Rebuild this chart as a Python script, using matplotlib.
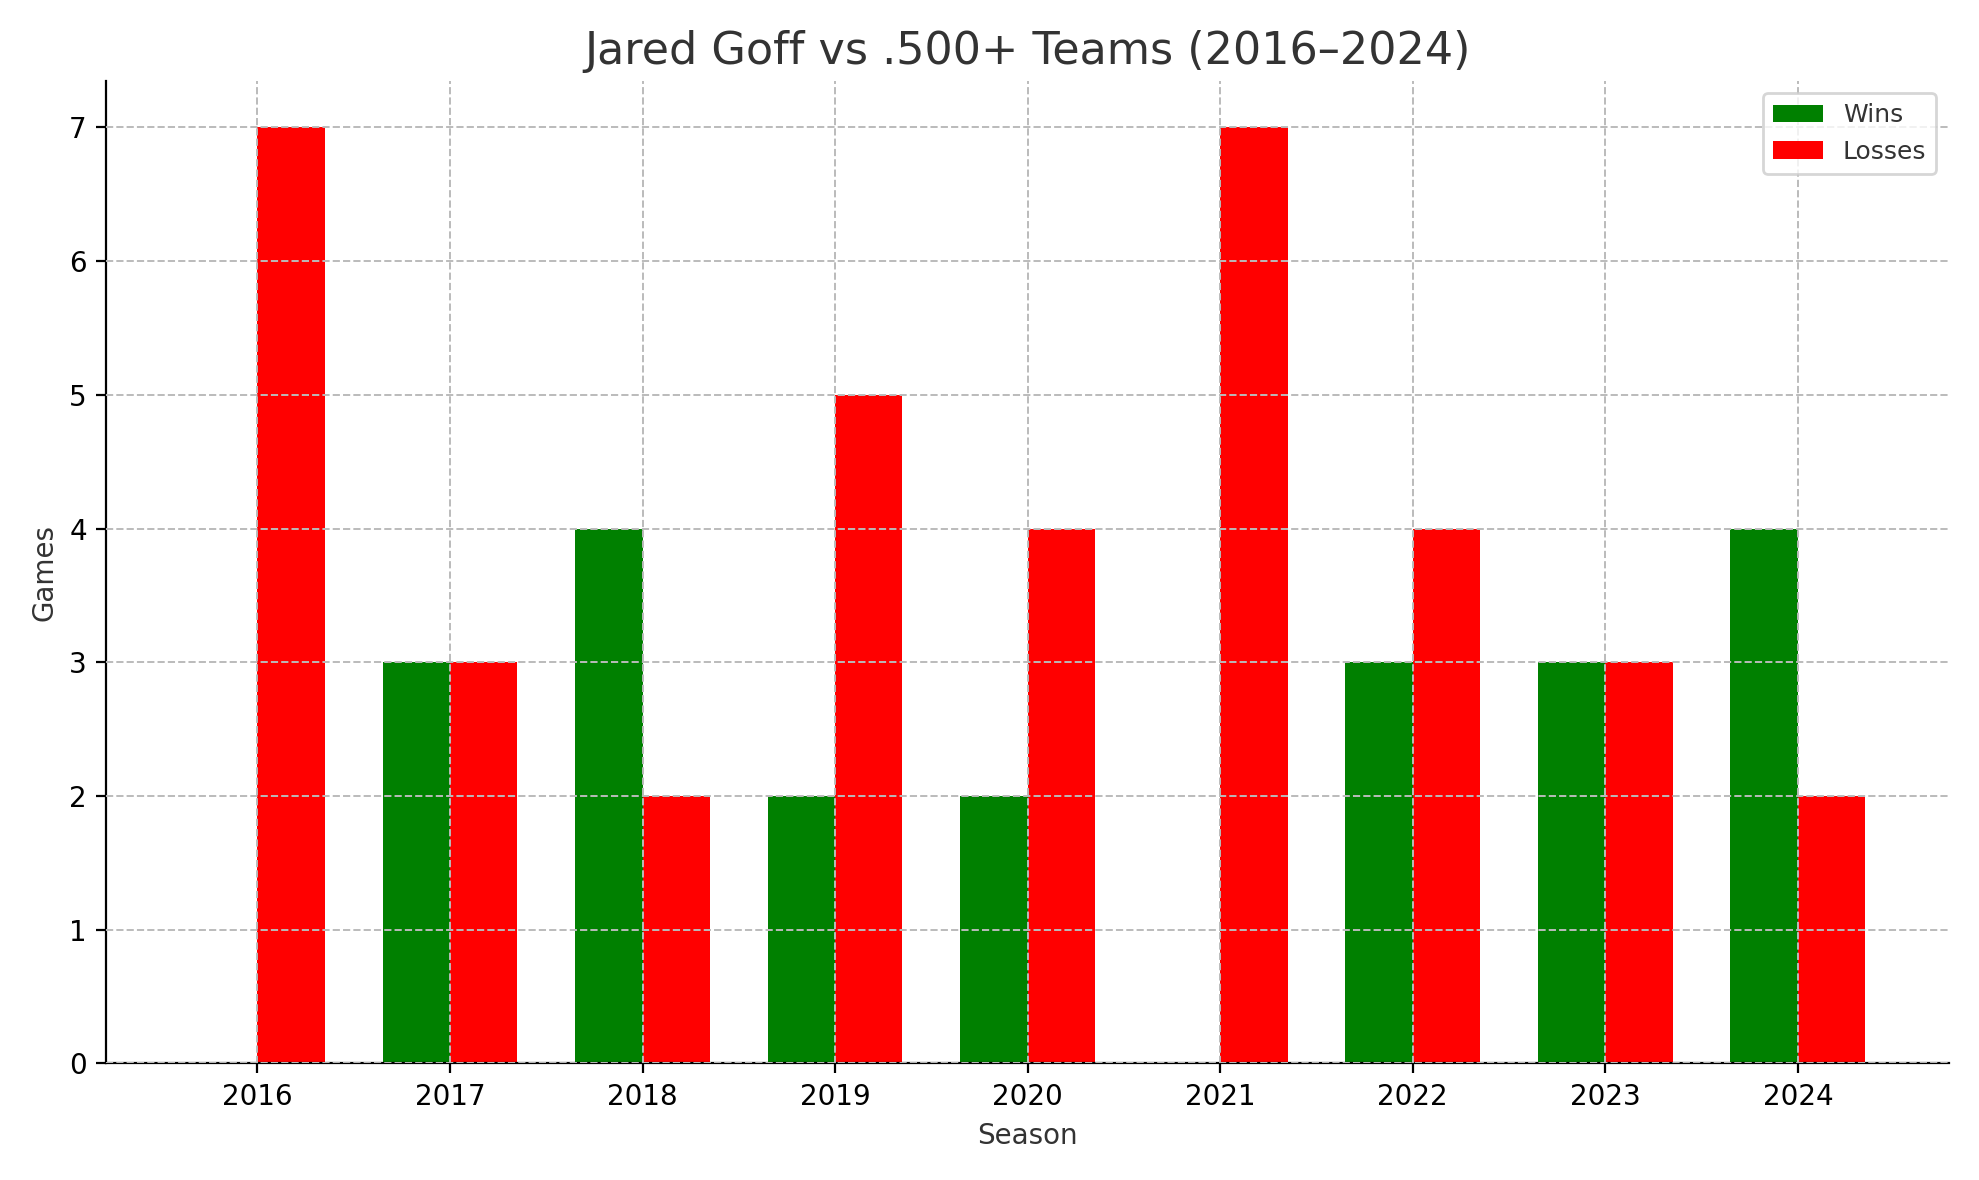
import numpy as np
import matplotlib
matplotlib.use("Agg")
import matplotlib.pyplot as plt

seasons = ["2016", "2017", "2018", "2019", "2020", "2021", "2022", "2023", "2024"]
wins = [0, 3, 4, 2, 2, 0, 3, 3, 4]
losses = [7, 3, 2, 5, 4, 7, 4, 3, 2]

plt.rcParams["text.color"] = "#333333"
plt.rcParams["axes.labelcolor"] = "#333333"

fig, ax = plt.subplots(figsize=(9.895, 5.9), dpi=200)
x = np.arange(len(seasons))
w = 0.35
ax.bar(x - w / 2, wins, w, color="green", label="Wins", zorder=1)
ax.bar(x + w / 2, losses, w, color="red", label="Losses", zorder=1)

ax.set_xticks(x)
ax.set_xticklabels(seasons)
ax.set_xlabel("Season")
ax.set_ylabel("Games")
ax.set_title("Jared Goff vs .500+ Teams (2016\u20132024)", fontsize=16)
ax.grid(True, linestyle="--", color="#bbbbbb", linewidth=0.7, zorder=2)
ax.set_axisbelow(False)
for s in ["top", "right"]:
    ax.spines[s].set_visible(False)
ax.legend(loc="upper right", fontsize=9)

fig.tight_layout()
fig.savefig("out.png", dpi=200)
